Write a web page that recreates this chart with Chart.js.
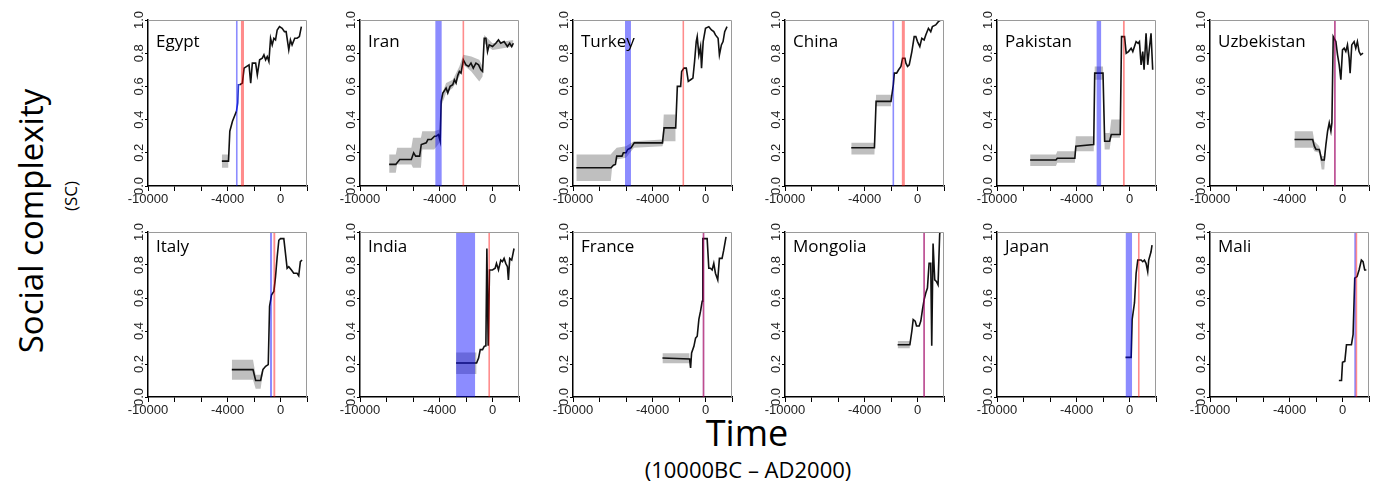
<!DOCTYPE html>
<html>
<head>
<meta charset="utf-8">
<script src="https://cdn.jsdelivr.net/npm/chart.js@4.4.1/dist/chart.umd.min.js"></script>
<style>
  body { margin: 0; background: #fff; width: 1376px; height: 488px; position: relative; overflow: hidden; }
  canvas { position: absolute; }
  .lbl { position: absolute; white-space: nowrap; color: #000; font-family: 'Open Sans', sans-serif; transform: translate(-50%, -50%); }
  .rot { transform: translate(-50%, -50%) rotate(-90deg); }
</style>
</head>
<body>
<div class="lbl rot" style="left:30px; top:221px; font-size:33px;">Social complexity</div>
<div class="lbl rot" style="left:70px; top:196px; font-size:17px;">(SC)</div>
<div class="lbl" style="left:747px; top:432px; font-size:36px;">Time</div>
<div class="lbl" style="left:748px; top:469px; font-size:22px;">(10000BC – AD2000)</div>
<script>
// social complexity per country, [year, SC]
const egypt = [[-4425,0.15],[-3925,0.15],[-3825,0.33],[-3625,0.39],[-3325,0.45],[-3225,0.50],[-3175,0.61],[-3075,0.61],[-2875,0.62],[-2750,0.71],[-2375,0.73],[-2250,0.62],[-2125,0.74],[-1875,0.74],[-1750,0.67],[-1575,0.76],[-1375,0.77],[-1250,0.79],[-1125,0.76],[-1000,0.78],[-875,0.75],[-750,0.89],[-625,0.85],[-500,0.89],[-375,0.88],[-250,0.94],[-75,0.96],[125,0.95],[300,0.93],[425,0.93],[625,0.82],[750,0.88],[875,0.85],[1075,0.89],[1250,0.89],[1425,0.90],[1575,0.96]];
const iran = [[-7800,0.13],[-7300,0.13],[-7000,0.16],[-6125,0.16],[-5950,0.20],[-5800,0.18],[-5500,0.18],[-5375,0.25],[-5000,0.26],[-4875,0.28],[-4625,0.28],[-4375,0.30],[-4250,0.30],[-4075,0.31],[-3950,0.27],[-3875,0.51],[-3750,0.56],[-3500,0.59],[-3375,0.56],[-3200,0.60],[-3000,0.61],[-2875,0.64],[-2750,0.62],[-2625,0.665],[-2500,0.69],[-2375,0.68],[-2200,0.76],[-2000,0.73],[-1800,0.72],[-1625,0.74],[-1450,0.71],[-1250,0.74],[-1050,0.73],[-875,0.70],[-750,0.69],[-625,0.89],[-500,0.89],[-375,0.81],[-250,0.85],[0,0.84],[250,0.86],[450,0.88],[625,0.86],[875,0.87],[1125,0.84],[1300,0.86],[1450,0.84],[1575,0.86]];
const turkey = [[-9750,0.11],[-7125,0.11],[-6950,0.125],[-6800,0.13],[-6700,0.18],[-6300,0.18],[-6200,0.20],[-6000,0.20],[-5875,0.22],[-5625,0.23],[-5375,0.26],[-5125,0.26],[-3250,0.26],[-3125,0.35],[-2250,0.35],[-2125,0.60],[-1875,0.60],[-1800,0.69],[-1625,0.71],[-1450,0.71],[-1300,0.63],[-1125,0.64],[-950,0.65],[-825,0.75],[-700,0.87],[-625,0.90],[-500,0.79],[-375,0.84],[-300,0.71],[-175,0.87],[0,0.95],[250,0.96],[450,0.94],[625,0.93],[750,0.91],[950,0.89],[1050,0.79],[1200,0.85],[1325,0.87],[1450,0.93],[1625,0.96]];
const china = [[-5000,0.23],[-3250,0.23],[-3125,0.51],[-2000,0.51],[-1825,0.61],[-1750,0.68],[-1575,0.68],[-1425,0.70],[-1250,0.72],[-1125,0.77],[-950,0.77],[-875,0.74],[-750,0.72],[-625,0.73],[-425,0.81],[-250,0.90],[-125,0.90],[0,0.87],[175,0.84],[325,0.89],[500,0.88],[625,0.91],[825,0.95],[1000,0.93],[1125,0.96],[1375,0.97],[1575,0.99],[1750,1.0]];
const pakistan = [[-7500,0.157],[-5550,0.157],[-5450,0.167],[-4125,0.167],[-4050,0.24],[-2700,0.25],[-2625,0.68],[-2000,0.68],[-1875,0.27],[-1500,0.27],[-1375,0.31],[-700,0.31],[-600,0.90],[-375,0.90],[-250,0.80],[-75,0.81],[125,0.83],[250,0.81],[375,0.84],[500,0.87],[650,0.86],[750,0.87],[875,0.73],[1000,0.81],[1100,0.70],[1250,0.92],[1375,0.73],[1500,0.83],[1625,0.92],[1750,0.70]];
const uzbekistan = [[-3625,0.28],[-2250,0.28],[-2125,0.24],[-2000,0.22],[-1750,0.22],[-1575,0.157],[-1375,0.157],[-1250,0.25],[-1125,0.33],[-1000,0.38],[-875,0.33],[-800,0.38],[-700,0.90],[-500,0.87],[-375,0.79],[-250,0.73],[-125,0.64],[0,0.82],[125,0.83],[250,0.81],[375,0.85],[500,0.77],[575,0.68],[700,0.85],[875,0.87],[1000,0.83],[1125,0.87],[1250,0.81],[1375,0.79],[1550,0.80]];
const italy = [[-3675,0.166],[-2075,0.166],[-1875,0.10],[-1500,0.10],[-1325,0.166],[-1125,0.186],[-925,0.196],[-825,0.55],[-675,0.62],[-500,0.64],[-375,0.73],[-250,0.85],[-125,0.95],[0,0.96],[250,0.96],[375,0.87],[500,0.78],[625,0.79],[825,0.77],[1000,0.75],[1250,0.75],[1375,0.735],[1500,0.82],[1625,0.83]];
const india = [[-2750,0.206],[-1200,0.206],[-1050,0.236],[-925,0.287],[-750,0.287],[-625,0.307],[-500,0.31],[-425,0.90],[-325,0.31],[-225,0.77],[0,0.77],[200,0.78],[300,0.81],[450,0.77],[625,0.83],[750,0.82],[875,0.84],[1000,0.81],[1125,0.79],[1200,0.71],[1300,0.84],[1450,0.83],[1625,0.90]];
const france = [[-3250,0.236],[-1200,0.23],[-1125,0.176],[-1050,0.267],[-875,0.307],[-750,0.357],[-625,0.368],[-500,0.47],[-375,0.52],[-250,0.58],[-200,0.96],[125,0.96],[250,0.78],[375,0.78],[500,0.77],[625,0.81],[750,0.75],[925,0.71],[1050,0.84],[1250,0.84],[1375,0.89],[1550,0.97]];
const mongolia = [[-1500,0.317],[-575,0.317],[-425,0.40],[-325,0.47],[-175,0.46],[-75,0.43],[125,0.43],[250,0.46],[375,0.53],[500,0.59],[625,0.63],[750,0.66],[875,0.81],[1000,0.81],[1075,0.31],[1175,0.93],[1300,0.71],[1425,0.70],[1550,0.68],[1675,0.99],[1725,1.0]];
const japan = [[-300,0.24],[125,0.24],[200,0.47],[375,0.57],[500,0.75],[625,0.83],[875,0.83],[1000,0.82],[1125,0.83],[1250,0.81],[1375,0.76],[1450,0.83],[1625,0.88],[1700,0.92]];
const mali = [[-275,0.10],[-75,0.10],[0,0.21],[175,0.216],[300,0.317],[675,0.317],[800,0.38],[925,0.72],[1100,0.73],[1250,0.77],[1425,0.83],[1550,0.82],[1675,0.77],[1800,0.77]];

// uncertainty band, [year, low, high]
const egyptCI = [[-4425,0.11,0.19],[-3925,0.11,0.19]];
const iranCI = [[-7800,0.08,0.19],[-7300,0.08,0.19],[-7200,0.13,0.23],[-6125,0.13,0.23],[-6000,0.11,0.29],[-5400,0.11,0.29],[-5300,0.22,0.33],[-4400,0.22,0.33],[-4000,0.26,0.34],[-3875,0.48,0.54],[-3500,0.56,0.62],[-3000,0.59,0.64],[-2500,0.66,0.72],[-2200,0.73,0.79],[-1600,0.69,0.78],[-1000,0.63,0.76],[-750,0.66,0.72],[-625,0.86,0.91],[0,0.82,0.86],[1575,0.84,0.88]];
const turkeyCI = [[-9750,0.03,0.19],[-7150,0.03,0.19],[-7050,0.11,0.20],[-6700,0.16,0.23],[-6000,0.17,0.24],[-5400,0.23,0.27],[-3250,0.24,0.28],[-3150,0.27,0.43],[-2250,0.27,0.43]];
const chinaCI = [[-5000,0.19,0.26],[-3250,0.19,0.26],[-3125,0.48,0.55],[-2000,0.48,0.55]];
const pakistanCI = [[-7500,0.12,0.19],[-5550,0.12,0.19],[-5450,0.14,0.21],[-4125,0.14,0.21],[-4050,0.21,0.30],[-2700,0.21,0.30],[-2625,0.64,0.72],[-2000,0.64,0.72],[-1875,0.22,0.32],[-1500,0.22,0.32],[-1375,0.29,0.40],[-700,0.29,0.40]];
const uzbekistanCI = [[-3625,0.23,0.33],[-2250,0.23,0.33],[-2125,0.21,0.27],[-1750,0.20,0.24],[-1575,0.10,0.18],[-1375,0.10,0.18],[-1250,0.23,0.27]];
const italyCI = [[-3675,0.105,0.226],[-2075,0.105,0.226],[-1875,0.05,0.135],[-1500,0.05,0.135],[-1325,0.15,0.18]];
const indiaCI = [[-2750,0.14,0.27],[-1200,0.14,0.27]];
const franceCI = [[-3250,0.205,0.265],[-1200,0.205,0.265]];
const mongoliaCI = [[-1500,0.295,0.34],[-575,0.295,0.34]];
const japanCI = [];
const maliCI = [];

const countries = ['Egypt', 'Iran', 'Turkey', 'China', 'Pakistan', 'Uzbekistan', 'Italy', 'India', 'France', 'Mongolia', 'Japan', 'Mali'];
const series = [egypt, iran, turkey, china, pakistan, uzbekistan, italy, india, france, mongolia, japan, mali];
const bands = [egyptCI, iranCI, turkeyCI, chinaCI, pakistanCI, uzbekistanCI, italyCI, indiaCI, franceCI, mongoliaCI, japanCI, maliCI];

// blue and red marked periods (start year, end year)
const blueFrom = [-3300, -4325, -6075, -1825, -2500, -575, -800, -2750, -150, 500, -300, 950];
const blueTo = [-3300, -3825, -5625, -1825, -2125, -575, -625, -1300, -150, 500, 200, 950];
const redFrom = [-3000, -2200, -1750, -1200, -500, -575, -550, -250, -150, 500, 700, 1050];
const redTo = [-2750, -2200, -1600, -950, -350, -575, -375, -250, -150, 500, 700, 1050];
// stretch of the Egypt curve drawn in blue
const egyptBlueStretch = [-3325, -3075];

const xTickLabels = [-10000, -4000, 0];
const yTickLabels = ['0.0', '0.2', '0.4', '0.6', '0.8', '1.0'];

const colLeft = [148, 360, 573, 785, 997, 1210];
const rowTop = [20, 232];
const plotW = 159;
const plotH = [166, 165];
const nameDy = [22, 15];
const tickFont = { family: 'Liberation Sans', size: 13 };

// grey top/right frame, rotated y tick labels (R style) and the country name
const framePlugin = {
  id: 'frame',
  afterDraw(chart, args, opts) {
    const { ctx, chartArea: a } = chart;
    const ys = chart.scales.y;
    ctx.save();
    ctx.strokeStyle = '#9a9a9a';
    ctx.lineWidth = 1;
    ctx.beginPath();
    ctx.moveTo(a.left, a.top + 0.5);
    ctx.lineTo(a.right - 0.5, a.top + 0.5);
    ctx.lineTo(a.right - 0.5, a.bottom);
    ctx.stroke();

    ctx.fillStyle = '#222';
    ctx.font = tickFont.size + 'px "' + tickFont.family + '"';
    ctx.textAlign = 'center';
    ctx.textBaseline = 'middle';
    ys.ticks.forEach((t, idx) => {
      ctx.save();
      ctx.translate(ys.right - 9, ys.getPixelForValue(t.value));
      ctx.rotate(-Math.PI / 2);
      ctx.fillText(yTickLabels[idx], 0, 0);
      ctx.restore();
    });

    ctx.fillStyle = '#000';
    ctx.font = '17px "Open Sans"';
    ctx.textAlign = 'left';
    ctx.fillText(opts.name, a.left + 8, a.top + opts.dy);
    ctx.restore();
  }
};

function period(from, to, color) {
  const thin = to - from < 1;
  return {
    data: [{ x: from, y: 0 }, { x: from, y: 1 }, { x: to, y: 1 }, { x: to, y: 0 }],
    borderColor: color,
    borderWidth: thin ? 1.6 : 0,
    backgroundColor: color,
    fill: 'origin',
    pointRadius: 0
  };
}

function panel(i) {
  const c = i % 6, r = Math.floor(i / 6);
  const padL = 40, padT = 14, padR = 6, padB = 26;
  const canvas = document.createElement('canvas');
  canvas.width = plotW + padL + padR;
  canvas.height = plotH[r] + padT + padB;
  canvas.style.left = (colLeft[c] - padL) + 'px';
  canvas.style.top = (rowTop[r] - padT) + 'px';
  document.body.appendChild(canvas);

  const ci = bands[i];
  const stretch = i === 0 ? egyptBlueStretch : null;
  const datasets = [
    period(redFrom[i], redTo[i], 'rgba(255,0,0,0.45)'),
    period(blueFrom[i], blueTo[i], 'rgba(0,0,255,0.45)'),
    {
      data: series[i].map(([x, y]) => ({ x, y })),
      borderColor: '#111',
      borderWidth: 1.6,
      pointRadius: 0,
      fill: false,
      segment: {
        borderColor: s => stretch && s.p0.parsed.x >= stretch[0] && s.p1.parsed.x <= stretch[1] ? '#2a3cc8' : undefined
      }
    },
    {
      data: ci.map(([x, lo, hi]) => ({ x, y: hi })),
      borderWidth: 0,
      pointRadius: 0,
      backgroundColor: 'rgba(128,128,128,0.5)',
      fill: '+1'
    },
    {
      data: ci.map(([x, lo, hi]) => ({ x, y: lo })),
      borderWidth: 0,
      pointRadius: 0,
      fill: false
    }
  ];

  new Chart(canvas, {
    type: 'line',
    data: { datasets },
    options: {
      responsive: false,
      animation: false,
      events: [],
      layout: { padding: { top: padT, right: padR, left: 0, bottom: 0 } },
      elements: { line: { tension: 0 } },
      plugins: {
        legend: { display: false },
        tooltip: { enabled: false },
        frame: { name: countries[i], dy: nameDy[r] }
      },
      scales: {
        x: {
          type: 'linear',
          min: -10000,
          max: 2000,
          ticks: {
            stepSize: 2000,
            autoSkip: false,
            maxRotation: 0,
            padding: 1,
            color: '#222',
            font: tickFont,
            callback: v => xTickLabels.includes(v) ? String(v) : ''
          },
          grid: { drawOnChartArea: false, tickLength: 5, color: '#000' },
          border: { color: '#000', width: 1.5 },
          afterFit: s => { s.height = padB; }
        },
        y: {
          min: 0,
          max: 1,
          ticks: {
            stepSize: 0.2,
            autoSkip: false,
            display: false
          },
          grid: { drawOnChartArea: false, tickLength: 3, color: '#000' },
          border: { color: '#000', width: 1.5 },
          afterFit: s => { s.width = padL; }
        }
      }
    },
    plugins: [framePlugin]
  });
}

for (let i = 0; i < countries.length; i++) panel(i);
</script>
</body>
</html>
